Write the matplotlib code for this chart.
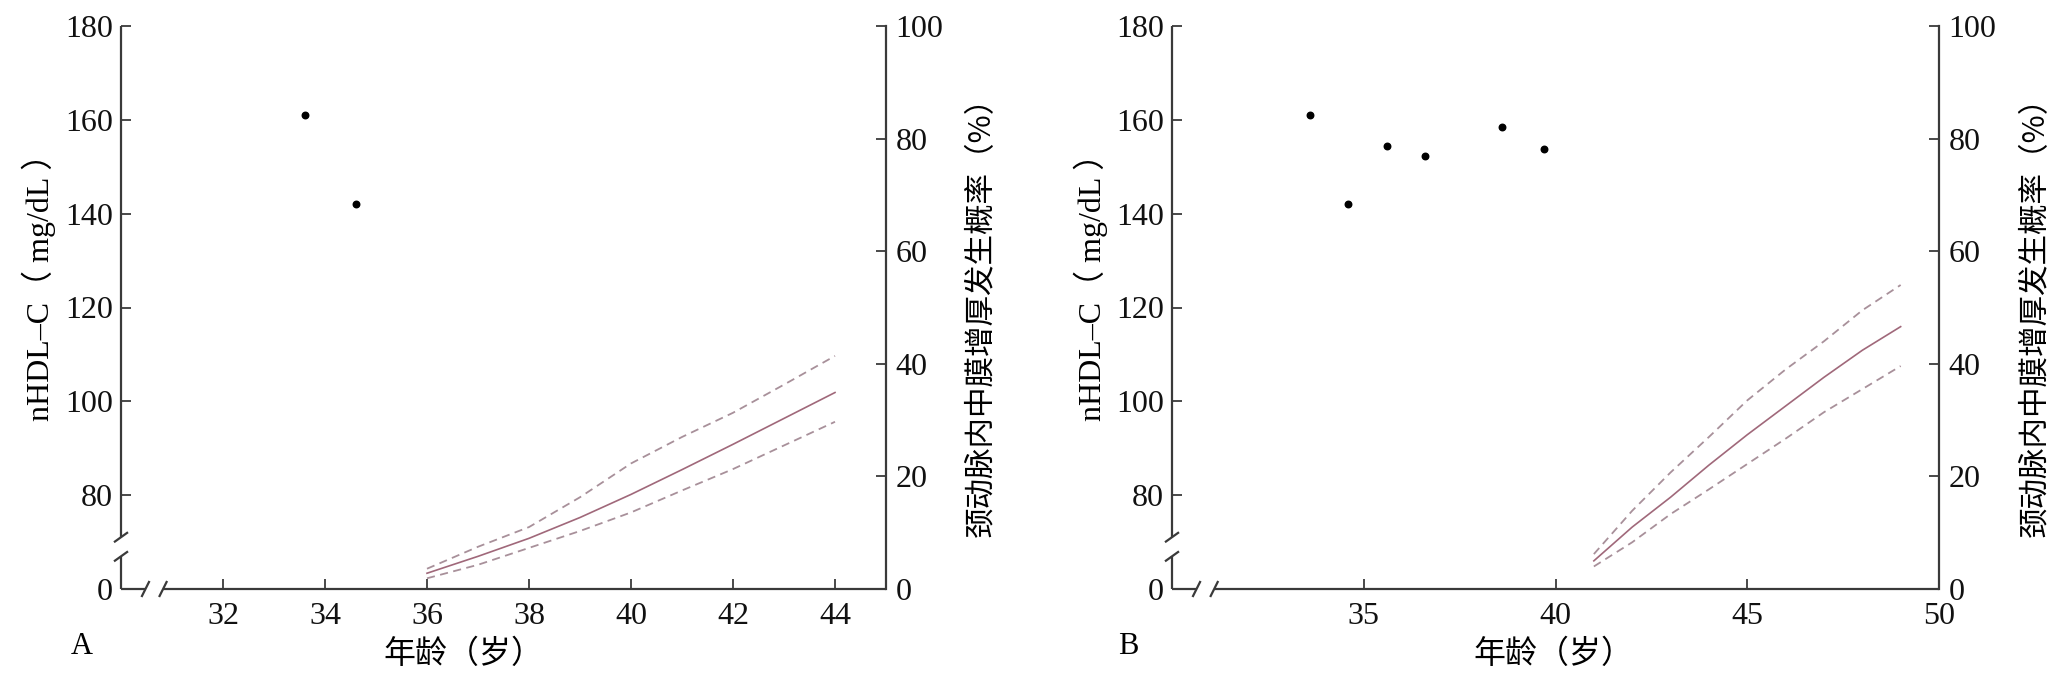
import matplotlib
matplotlib.use('Agg')
import matplotlib.pyplot as plt

W, H = 2062, 674
fig = plt.figure(figsize=(W / 100, H / 100), dpi=100)

SERIF = ['Liberation Serif', 'Noto Sans CJK SC']
CJK = ['Noto Sans CJK SC', 'Liberation Serif']

# ---------------- data ----------------
# Panel A
a_pt_age = [33.6, 34.6]
a_pt_nhdl = [161, 142]
a_age = [36, 37, 38, 39, 40, 41, 42, 43, 44]
a_mid = [2.8, 5.8, 9.0, 12.7, 16.8, 21.2, 25.7, 30.3, 34.9]
a_up = [3.6, 7.5, 11.0, 16.3, 22.3, 27.0, 31.3, 36.3, 41.4]
a_lo = [1.9, 4.3, 7.3, 10.3, 13.6, 17.5, 21.3, 25.5, 29.7]
a_xticks = [32, 34, 36, 38, 40, 42, 44]

# Panel B
b_pt_age = [33.6, 34.6, 35.6, 36.6, 38.6, 39.7]
b_pt_nhdl = [161, 142, 154.5, 152.3, 158.5, 153.7]
b_age = [41, 42, 43, 44, 45, 46, 47, 48, 49]
b_mid = [5.0, 11.0, 16.3, 22.0, 27.4, 32.5, 37.6, 42.4, 46.6]
b_up = [6.2, 13.9, 20.7, 27.0, 33.5, 39.0, 44.0, 49.5, 54.0]
b_lo = [4.0, 8.3, 13.3, 17.7, 22.2, 26.7, 31.4, 35.5, 39.6]
b_xticks = [35, 40, 45, 50]

left_ticks = [60, 80, 100, 120, 140, 160, 180]
left_ticklabels = ['0', '80', '100', '120', '140', '160', '180']
right_ticks = [0, 20, 40, 60, 80, 100]

AX_COL = '#3a3a3a'
SOLID_COL = '#a0687a'
DASH_COL = '#a8909a'


def fx(px):
    return px / W


def fy(py):
    return 1 - py / H


def panel(left_px, right_px, xlim, xticks, pt_age, pt_val, age, mid, up, lo,
          ylab_x, rlab_x, xlab_x, letter, letter_x):
    top_px, bot_px = 26, 589
    ax = fig.add_axes([fx(left_px), fy(bot_px), fx(right_px - left_px),
                       (bot_px - top_px) / H])
    ax2 = ax.twinx()
    ax.set_xlim(*xlim)
    ax.set_ylim(60, 180)
    ax2.set_ylim(0, 100)
    for s in ax.spines.values():
        s.set_visible(False)
    for k in ['left', 'top', 'bottom']:
        ax2.spines[k].set_visible(False)
    ax2.spines['right'].set_color(AX_COL)
    ax2.spines['right'].set_linewidth(1.6)

    # broken left / bottom axis lines
    kw = dict(transform=ax.transAxes, color=AX_COL, lw=1.6, clip_on=False,
              solid_capstyle='butt')
    yb0, yb1 = 0.058, 0.092
    xb0, xb1 = 0.032, 0.055
    ax.plot([0, 0], [0, yb0], **kw)
    ax.plot([0, 0], [yb1, 1], **kw)
    ax.plot([0, xb0], [0, 0], **kw)
    ax.plot([xb1, 1], [0, 0], **kw)
    axw = right_px - left_px
    axh = bot_px - top_px
    dx, dy = 7 / axw, 5 / axh
    for yb in (yb0, yb1):
        ax.plot([-dx, dx], [yb - dy, yb + dy], **kw)
    dx, dy = 4 / axw, 8 / axh
    for xb in (xb0, xb1):
        ax.plot([xb - dx, xb + dx], [-dy, dy], **kw)

    ax.set_xticks(xticks)
    ax.set_xticklabels([str(t) for t in xticks])
    ax.set_yticks(left_ticks)
    ax.set_yticklabels(left_ticklabels)
    ax2.set_yticks(right_ticks)
    ax2.set_yticklabels([str(t) for t in right_ticks])
    ax.tick_params(axis='both', direction='in', length=7, width=1.3,
                   color=AX_COL, labelsize=23, labelcolor='#111111')
    ax.tick_params(axis='x', pad=9)
    ax.tick_params(axis='y', pad=6)
    ax2.tick_params(axis='y', direction='in', length=7, width=1.3,
                    color=AX_COL, labelsize=23, labelcolor='#111111', pad=7)
    for lab in ax.get_xticklabels() + ax.get_yticklabels() + ax2.get_yticklabels():
        lab.set_fontfamily(SERIF)

    ax.scatter(pt_age, pt_val, s=22, color='black', zorder=5, clip_on=False)
    ax2.plot(age, mid, color=SOLID_COL, lw=1.2)
    ax2.plot(age, up, color=DASH_COL, lw=1.3, dashes=(4.5, 3))
    ax2.plot(age, lo, color=DASH_COL, lw=1.3, dashes=(4.5, 3))

    fig.text(fx(ylab_x), fy(279), 'nHDL–C（ mg/dL ）', rotation=90,
             ha='center', va='center', fontsize=23, family=SERIF)
    fig.text(fx(rlab_x), fy(309), '颈动脉内中膜增厚发生概率（%）', rotation=90,
             ha='center', va='center', fontsize=22, family=CJK)
    fig.text(fx(xlab_x), fy(654), '年龄（岁）', ha='center', va='center',
             fontsize=23, family=CJK)
    fig.text(fx(letter_x), fy(647), letter, ha='center', va='center',
             fontsize=22, family=SERIF)


panel(121, 886, (30, 45), a_xticks, a_pt_age, a_pt_nhdl, a_age, a_mid, a_up, a_lo,
      39, 982, 463, 'A', 82)
panel(1172, 1939, (30, 50), b_xticks, b_pt_age, b_pt_nhdl, b_age, b_mid, b_up, b_lo,
      1091, 2036, 1553, 'B', 1128)

fig.savefig('out.png', dpi=100)
